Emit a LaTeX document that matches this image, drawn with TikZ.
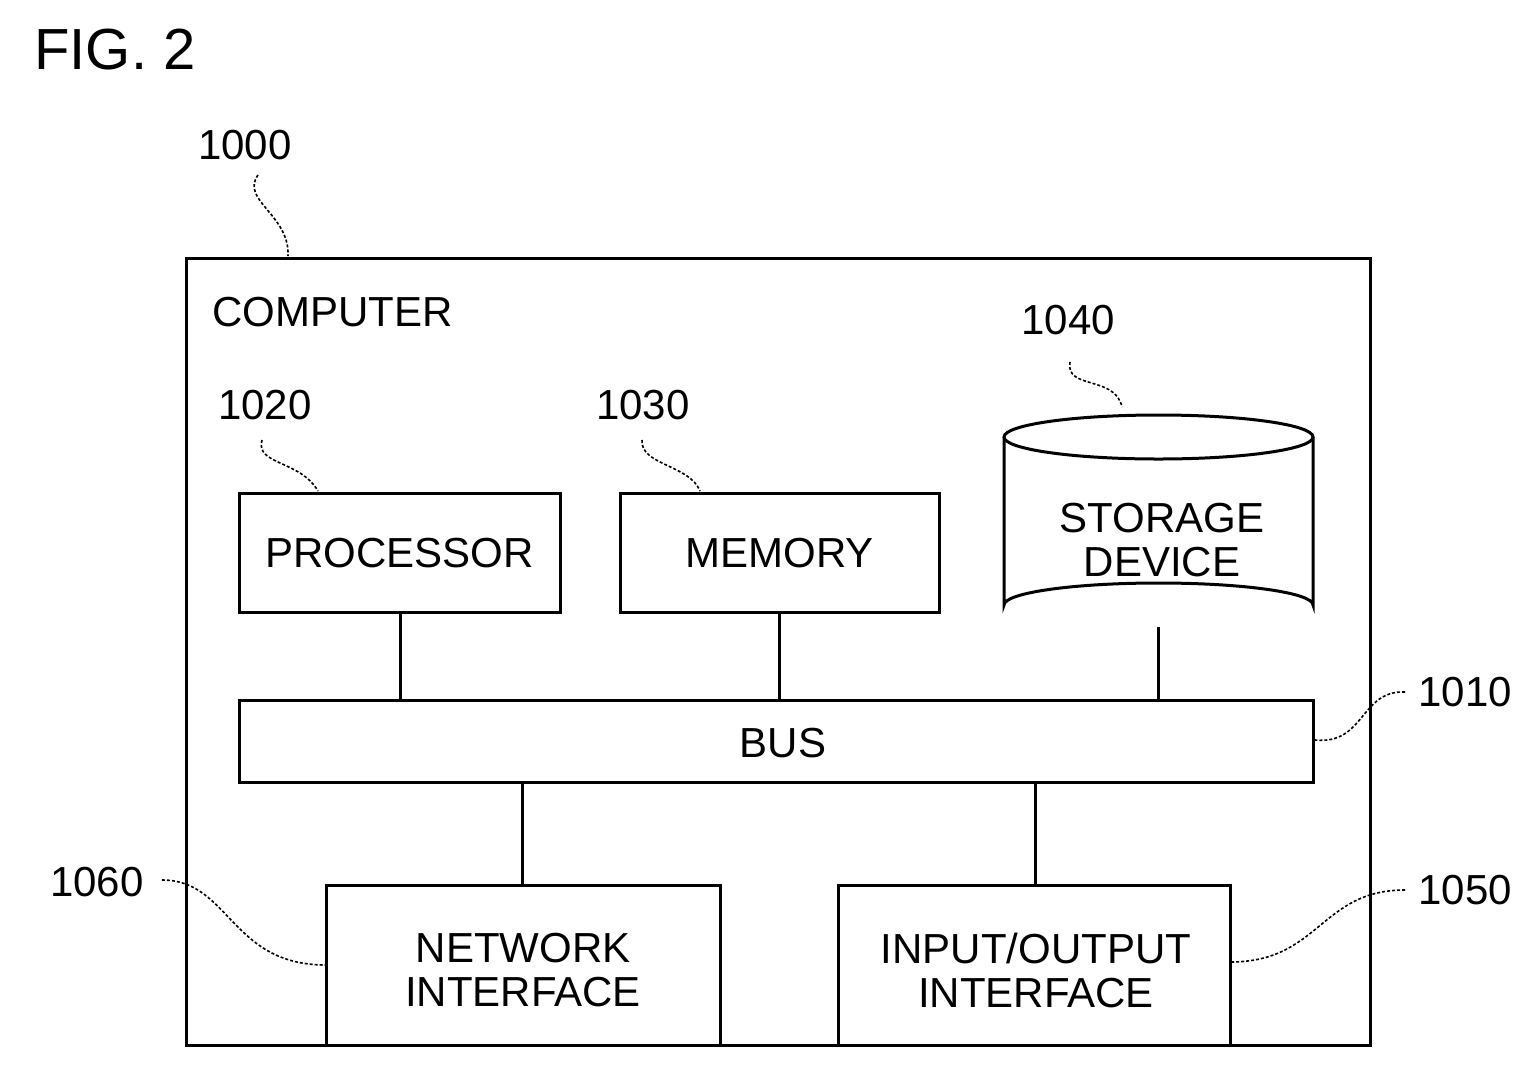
\documentclass[tikz,border=0pt]{standalone}
\usepackage{fontspec}
\setmainfont{Liberation Sans}
\usetikzlibrary{shapes.geometric}
\begin{document}
\begin{tikzpicture}[x=1pt,y=-1pt,
  box/.style={draw,line width=3pt,inner sep=0pt},
  txt/.style={font=\fontsize{42}{44}\selectfont,align=center,inner sep=0pt},
  lead/.style={line width=1.6pt,dash pattern=on 3pt off 2pt},
  conn/.style={line width=3pt}]
\useasboundingbox (0,0) rectangle (1539,1069);
\node[txt,font=\fontsize{58}{60}\selectfont] (fig) at (115,50) {FIG. 2};
% outer
\draw[box] (186,258) rectangle (1370,1045);
\coordinate (outerTL) at (290,256);
\node[txt,anchor=west] (comp) at (212,312) {COMPUTER};
% boxes
\draw[box] (239,493) rectangle (560,612);
\node[txt] (proc) at (399.5,553) {PROCESSOR};
\draw[box] (620,493) rectangle (939,612);
\node[txt] (mem) at (779.5,553) {MEMORY};
% cylinder
\draw[line width=3pt] (1004,437) -- (1004,605) arc[start angle=180,end angle=360,x radius=154.5,y radius=22] -- (1313,437);
\draw[line width=3pt] (1158.5,437) ellipse[x radius=154.5,y radius=22];
\node[txt] (stor) at (1162,540) {STORAGE\\DEVICE};
% bus
\draw[box] (239,700) rectangle (1313,782);
\node[txt] (bus) at (783,743) {BUS};
\draw[box] (326,885) rectangle (720,1045);
\node[txt] (net) at (523,970) {NETWORK\\INTERFACE};
\draw[box] (838,885) rectangle (1230,1045);
\node[txt] (io) at (1036,970) {INPUT/OUTPUT\\INTERFACE};
% connectors
\coordinate (p1) at (400,612); \coordinate (p2) at (400,700);
\coordinate (m1) at (779,612); \coordinate (m2) at (779,700);
\coordinate (s1) at (1158,627); \coordinate (s2) at (1158,700);
\coordinate (n1) at (522,782); \coordinate (n2) at (522,885);
\coordinate (i1) at (1035,782); \coordinate (i2) at (1035,885);
\draw[conn] (p1)--(p2); \draw[conn] (m1)--(m2); \draw[conn] (s1)--(s2);
\draw[conn] (n1)--(n2); \draw[conn] (i1)--(i2);
% labels
\node[txt] (l1000) at (245,145) {1000};
\node[txt] (l1020) at (265,405) {1020};
\node[txt] (l1030) at (643,405) {1030};
\node[txt] (l1040) at (1068,320) {1040};
\node[txt] (l1010) at (1465,692) {1010};
\node[txt] (l1060) at (97,882) {1060};
\node[txt] (l1050) at (1465,890) {1050};
\coordinate (a1000) at (288,256);
\coordinate (a1020) at (318,491);
\coordinate (a1030) at (700,491);
\coordinate (a1040) at (1122,407);
\coordinate (a1010) at (1315,740);
\coordinate (a1060) at (326,965);
\coordinate (a1050) at (1230,962);
\draw[lead] (258,175) .. controls (240,200) and (290,215) .. (a1000);
\draw[lead] (262,440) .. controls (255,465) and (300,460) .. (a1020);
\draw[lead] (642,440) .. controls (640,465) and (690,465) .. (a1030);
\draw[lead] (1070,362) .. controls (1065,390) and (1115,375) .. (a1040);
\draw[lead] (1405,692) .. controls (1360,690) and (1365,745) .. (a1010);
\draw[lead] (162,880) .. controls (230,880) and (230,965) .. (a1060);
\draw[lead] (1405,890) .. controls (1320,890) and (1320,962) .. (a1050);
\end{tikzpicture}
\end{document}
